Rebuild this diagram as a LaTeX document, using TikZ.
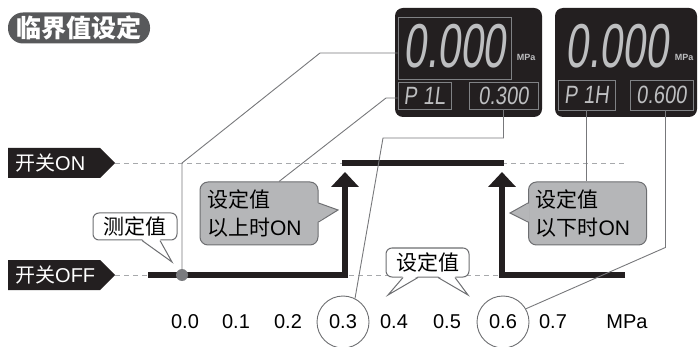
\documentclass[tikz,border=0pt]{standalone}
\usepackage{fontspec}
\setmainfont{Liberation Sans}
\newfontfamily\cjk{Noto Sans CJK SC}
\newfontfamily\lcd{Liberation Sans}[FakeStretch=0.66,FakeSlant=0.12]
\newfontfamily\lcdsub{Liberation Sans}[FakeStretch=0.8,FakeSlant=0.12]
\usetikzlibrary{arrows.meta, positioning, calc, shapes.symbols}

\definecolor{lcdbg}{HTML}{231F20}
\definecolor{segtxt}{HTML}{BDBEC0}
\definecolor{segline}{HTML}{808285}
\definecolor{leadgray}{HTML}{77787B}
\definecolor{dashgray}{HTML}{A7A9AC}
\definecolor{callgray}{HTML}{B5B6B8}
\definecolor{calledge}{HTML}{6D6E71}
\definecolor{titlegray}{HTML}{58595B}
\definecolor{dotgray}{HTML}{7A7B7E}

\begin{document}
\begin{tikzpicture}[x=1pt, y=-1pt,
    title/.style={rectangle, rounded corners=15pt, fill=titlegray, text=white,
                  minimum width=142pt, minimum height=31pt,
                  font=\cjk\bfseries\fontsize{25}{25}\selectfont},
    disp/.style={fill=lcdbg, rounded corners=8pt},
    segbox/.style={rectangle, draw=segline, line width=0.9pt, text=segtxt, inner sep=0pt},
    bignum/.style={font=\lcd\fontsize{62}{62}\selectfont},
    subnum/.style={font=\lcdsub\fontsize{25}{25}\selectfont},
    unit/.style={text=segtxt, inner sep=0pt, font=\bfseries\fontsize{9}{9}\selectfont},
    tag/.style={signal, signal to=east, signal pointer angle=90, fill=lcdbg, text=white,
                minimum height=30pt, text width=78pt, inner xsep=7pt, align=left,
                font=\fontsize{20}{20}\selectfont},
    level/.style={draw=dashgray, line width=0.8pt, dash pattern=on 5pt off 4pt},
    bar/.style={draw=lcdbg, line width=6pt},
    leader/.style={draw=leadgray, line width=0.9pt},
    gcall/.style={rectangle, rounded corners=8pt, fill=callgray, draw=calledge, line width=1pt,
                  minimum width=118pt, minimum height=63pt, text width=104pt, inner xsep=7pt,
                  align=left, font=\fontsize{21}{28}\selectfont},
    wcall/.style={rectangle, rounded corners=6pt, fill=white, draw=calledge, line width=1pt,
                  inner xsep=5pt, inner ysep=2pt, font=\cjk\fontsize{21}{21}\selectfont},
    tick/.style={font=\fontsize{20}{20}\selectfont},
    ring/.style={circle, draw=calledge, line width=0.9pt, minimum size=52pt, inner sep=0pt,
                 font=\fontsize{20}{20}\selectfont},
  ]
  \useasboundingbox (0,0) rectangle (698,347);

  % title
  \node[title] (ttl) at (79,28) {临界值设定};

  % display 1 (low set point)
  \fill[disp] (395,8) rectangle (542,117);
  \node[segbox, minimum width=113pt, minimum height=62pt] (main1) at (454.5,48) {};
  \node[text=segtxt, bignum, inner sep=0pt] (val1) at (454.5,46) {0.000};
  \node[unit] (u1) at (526,57) {MPa};
  \node[segbox, subnum, minimum width=53pt, minimum height=27pt] (sub1L) at (424.5,95.5) {P\hspace{6pt}1L};
  \node[segbox, subnum, minimum width=69pt, minimum height=27pt] (sub1R) at (503.5,95.5) {0.300};

  % display 2 (high set point)
  \fill[disp] (555,8) rectangle (697,117);
  \node[text=segtxt, bignum, inner sep=0pt] (val2) at (617,46) {0.000};
  \node[unit] (u2) at (684,57) {MPa};
  \node[segbox, subnum, minimum width=57pt, minimum height=30pt] (sub2L) at (586.5,95) {P\hspace{6pt}1H};
  \node[segbox, subnum, minimum width=63pt, minimum height=30pt] (sub2R) at (661.5,95) {0.600};

  % switch levels
  \node[tag, anchor=west] (on)  at (8,163) {{\cjk 开关}ON};
  \node[tag, anchor=west] (off) at (8,275) {{\cjk 开关}OFF};
  \draw[level] (on.east) -- (627,163);
  \draw[level] (off.east) -- (625,275);

  % switching curve
  \draw[bar, -{Triangle[width=27pt,length=15pt]}] (148,275) -| (345,172);
  \draw[bar] (342,163) -- (504,163);
  \draw[bar, -{Triangle[width=27pt,length=15pt]}] (625,275) -| (502,172);

  % scale
  \foreach \x/\v [count=\i] in {185/0.0, 236/0.1, 288/0.2, 394/0.4, 447/0.5, 553/0.7, 627/MPa}
    \node[tick] (tick\i) at (\x,322) {\v};
  \node[ring] (c03) at (343,322) {0.3};
  \node[ring] (c06) at (503,322) {0.6};

  % callouts
  \node[gcall] (cA) at (259,213.5) {{\cjk 设定值}\\{\cjk 以上时}ON};
  \coordinate (tipA) at (338,210);
  \fill[callgray] ($(cA.east)+(-1.5,-10.5)$) -- (tipA) -- ($(cA.east)+(-1.5,8.5)$) -- cycle;
  \draw[calledge, line width=1pt] ($(cA.east)+(0,-10.5)$) -- (tipA) -- ($(cA.east)+(0,8.5)$);

  \node[gcall] (cB) at (587.5,213.5) {{\cjk 设定值}\\{\cjk 以下时}ON};
  \coordinate (tipB) at (510,213);
  \fill[callgray] ($(cB.west)+(1.5,-10.5)$) -- (tipB) -- ($(cB.west)+(1.5,8.5)$) -- cycle;
  \draw[calledge, line width=1pt] ($(cB.west)+(0,-10.5)$) -- (tipB) -- ($(cB.west)+(0,8.5)$);

  \node[wcall, minimum width=84pt, minimum height=27pt] (cM) at (135,226.5) {测定值};
  \coordinate (tipM) at (172,262);
  \fill[white] ($(cM.south)+(7,-1.5)$) -- (tipM) -- ($(cM.south)+(25,-1.5)$) -- cycle;
  \draw[calledge, line width=1pt] ($(cM.south)+(7,0)$) -- (tipM) -- ($(cM.south)+(25,0)$);

  \node[wcall, minimum width=83pt, minimum height=29pt] (cS) at (427.5,262.5) {设定值};
  \coordinate (tipS1) at (388,295);
  \coordinate (tipS2) at (468,295);
  \fill[white] ($(cS.south)+(-24.5,-1.5)$) -- (tipS1) -- ($(cS.south)+(-9.5,-1.5)$) -- cycle;
  \draw[calledge, line width=1pt] ($(cS.south)+(-24.5,0)$) -- (tipS1) -- ($(cS.south)+(-9.5,0)$);
  \fill[white] ($(cS.south)+(10.5,-1.5)$) -- (tipS2) -- ($(cS.south)+(27.5,-1.5)$) -- cycle;
  \draw[calledge, line width=1pt] ($(cS.south)+(10.5,0)$) -- (tipS2) -- ($(cS.south)+(27.5,0)$);

  % leader lines
  \coordinate (k1) at (320,53);
  \coordinate (k2) at (386,98);
  \draw[leader] (182,275) -- (182,163) -- (k1) -- (k1 -| main1.west);
  \draw[leader] ($(cA.north)+(20,0)$) -- (k2) -- (k2 -| sub1L.west);
  \draw[leader] (sub1R.south) |- (383,138) -- (c03.63);
  \draw[leader] (sub2L.south) -- (sub2L.south |- cB.north);
  \draw[leader] ([xshift=4pt]sub2R.south) -- ++(0,137) -- (c06.30);

  % measured value
  \node[circle, fill=dotgray, minimum size=12pt, inner sep=0pt] (meas) at (182,275) {};
\end{tikzpicture}
\end{document}
